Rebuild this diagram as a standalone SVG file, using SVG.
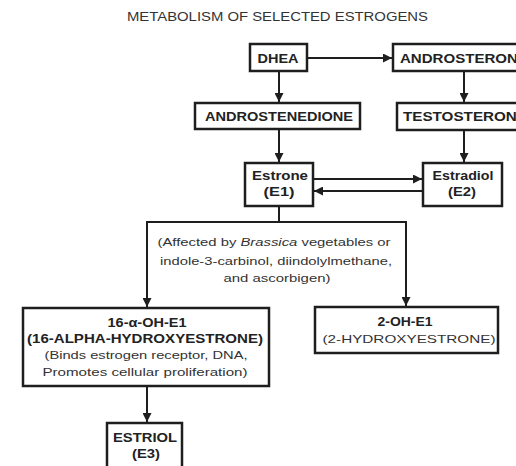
<svg xmlns="http://www.w3.org/2000/svg" width="516" height="466" viewBox="0 0 516 466">
<style>
.box{fill:#fff;stroke:#1e1e1e;stroke-width:2.5}
.ln{fill:none;stroke:#1e1e1e;stroke-width:2}
.t{font-family:"Liberation Sans",Arial,sans-serif;fill:#222;text-anchor:middle}
.b{font-weight:bold;font-size:12px}
.r{font-size:11.5px;fill:#333}
.ti{font-family:"Liberation Sans",Arial,sans-serif;font-size:12px;fill:#333}
</style>
<defs>
<marker id="ah" viewBox="0 0 10 10" refX="10" refY="5" markerWidth="4.5" markerHeight="4.5" orient="auto" markerUnits="strokeWidth">
<path d="M0,0 L10,5 L0,10 z" fill="#1e1e1e"/>
</marker>
</defs>
<rect width="516" height="466" fill="#fff"/>
<text class="ti" x="127" y="21" textLength="301" lengthAdjust="spacingAndGlyphs">METABOLISM OF SELECTED ESTROGENS</text>
<g id="connectors">
<line class="ln" x1="307" y1="58" x2="392" y2="58" marker-end="url(#ah)"/>
<line class="ln" x1="279" y1="71" x2="279" y2="102" marker-end="url(#ah)"/>
<line class="ln" x1="464" y1="71" x2="464" y2="102" marker-end="url(#ah)"/>
<line class="ln" x1="279" y1="129" x2="279" y2="162" marker-end="url(#ah)"/>
<line class="ln" x1="464" y1="130" x2="464" y2="162" marker-end="url(#ah)"/>
<line class="ln" x1="313" y1="179" x2="422" y2="179" marker-end="url(#ah)"/>
<line class="ln" x1="423" y1="191" x2="314" y2="191" marker-end="url(#ah)"/>
<path class="ln" d="M279,206 V222 M147,222 H406"/>
<line class="ln" x1="147" y1="221" x2="147" y2="307" marker-end="url(#ah)"/>
<line class="ln" x1="406" y1="221" x2="406" y2="306" marker-end="url(#ah)"/>
<line class="ln" x1="147" y1="386" x2="147" y2="422" marker-end="url(#ah)"/>
</g>
<g id="dhea">
<rect class="box" x="250" y="44" width="57" height="27"/>
<text class="t b" x="278" y="63" textLength="41" lengthAdjust="spacingAndGlyphs">DHEA</text>
</g>
<g id="androsterone">
<rect class="box" x="393" y="44" width="140" height="27"/>
<text class="t b" x="400" y="63" style="text-anchor:start" textLength="128" lengthAdjust="spacingAndGlyphs">ANDROSTERONE</text>
</g>
<g id="androstenedione">
<rect class="box" x="195" y="103" width="165" height="26"/>
<text class="t b" x="279" y="121" textLength="148" lengthAdjust="spacingAndGlyphs">ANDROSTENEDIONE</text>
</g>
<g id="testosterone">
<rect class="box" x="397" y="103" width="136" height="27"/>
<text class="t b" x="403" y="121" style="text-anchor:start" textLength="124" lengthAdjust="spacingAndGlyphs">TESTOSTERONE</text>
</g>
<g id="estrone">
<rect class="box" x="245" y="163" width="68" height="43"/>
<text class="t b" x="280" y="180" textLength="56" lengthAdjust="spacingAndGlyphs">Estrone</text>
<text class="t b" x="279" y="196" textLength="31" lengthAdjust="spacingAndGlyphs">(E1)</text>
</g>
<g id="estradiol">
<rect class="box" x="423" y="163" width="79" height="43"/>
<text class="t b" x="463" y="180" textLength="61" lengthAdjust="spacingAndGlyphs">Estradiol</text>
<text class="t b" x="462" y="196" textLength="28" lengthAdjust="spacingAndGlyphs">(E2)</text>
</g>
<g id="note">
<text class="t r" x="274" y="246" textLength="233" lengthAdjust="spacingAndGlyphs">(Affected by <tspan font-style="italic">Brassica</tspan> vegetables or</text>
<text class="t r" x="276" y="265" textLength="232" lengthAdjust="spacingAndGlyphs">indole-3-carbinol, diindolylmethane,</text>
<text class="t r" x="277" y="282" textLength="107" lengthAdjust="spacingAndGlyphs">and ascorbigen)</text>
</g>
<g id="hydroxy16">
<rect class="box" x="23" y="308" width="246" height="78"/>
<text class="t b" x="147" y="327" textLength="79" lengthAdjust="spacingAndGlyphs">16-α-OH-E1</text>
<text class="t b" x="145" y="343" textLength="236" lengthAdjust="spacingAndGlyphs">(16-ALPHA-HYDROXYESTRONE)</text>
<text class="t r" x="146" y="359" textLength="203" lengthAdjust="spacingAndGlyphs">(Binds estrogen receptor, DNA,</text>
<text class="t r" x="145" y="376" textLength="205" lengthAdjust="spacingAndGlyphs">Promotes cellular proliferation)</text>
</g>
<g id="hydroxy2">
<rect class="box" x="315" y="307" width="183" height="46"/>
<text class="t b" x="405" y="326" textLength="55" lengthAdjust="spacingAndGlyphs">2-OH-E1</text>
<text class="t r" x="409" y="343" textLength="173" lengthAdjust="spacingAndGlyphs">(2-HYDROXYESTRONE)</text>
</g>
<g id="estriol">
<rect class="box" x="107" y="423" width="75" height="50"/>
<text class="t b" x="145" y="442" textLength="64" lengthAdjust="spacingAndGlyphs">ESTRIOL</text>
<text class="t b" x="146" y="458" textLength="28" lengthAdjust="spacingAndGlyphs">(E3)</text>
</g>
</svg>
